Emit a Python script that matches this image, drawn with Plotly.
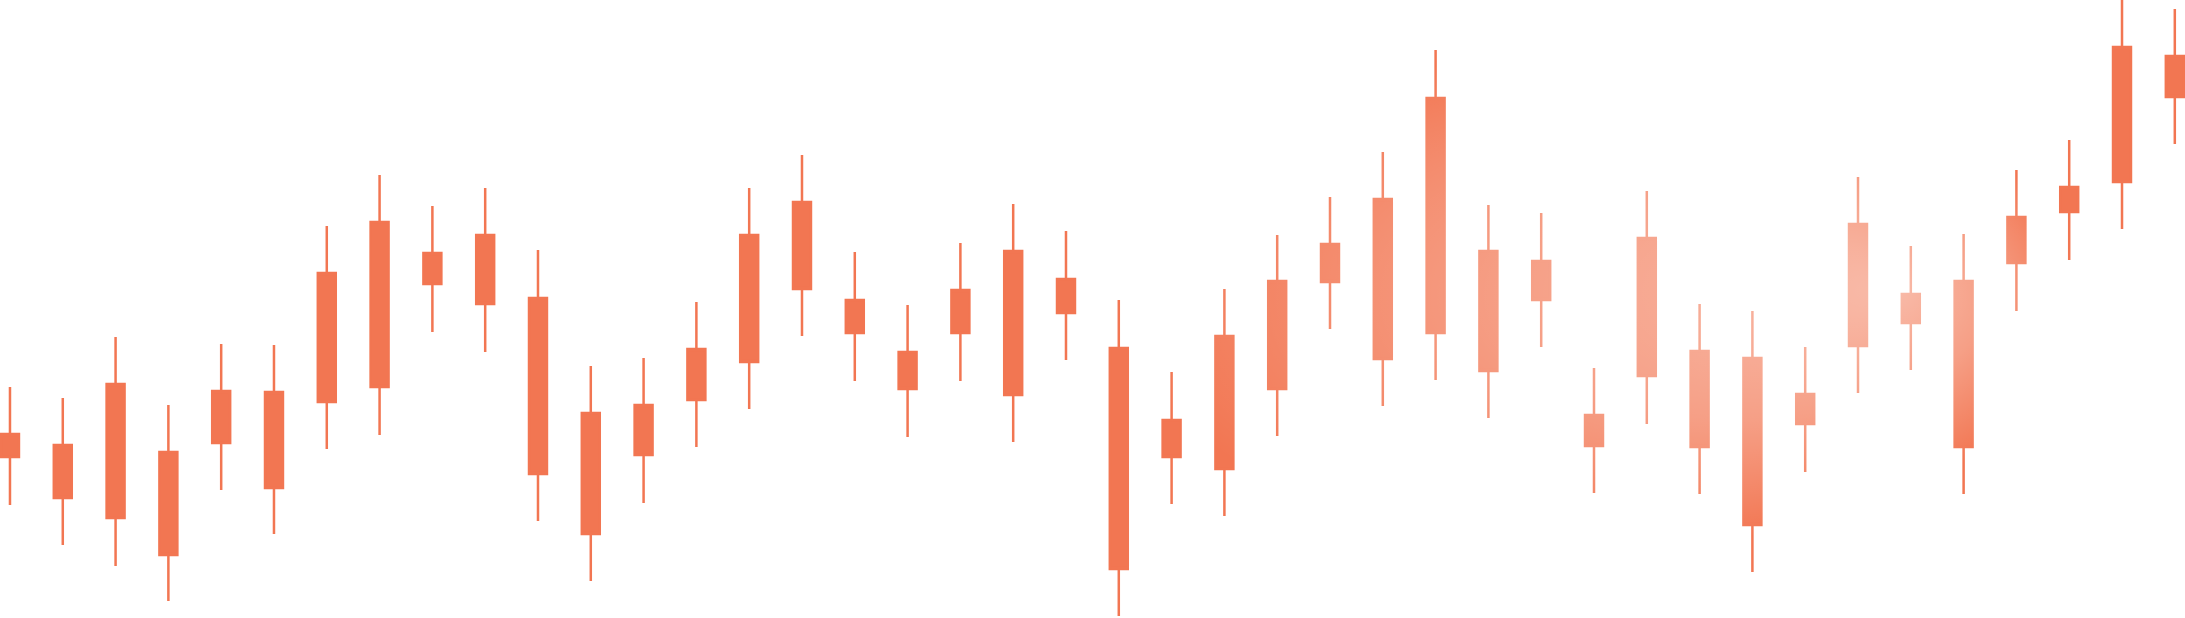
import base64
import plotly.graph_objects as go

# candle index along the x axis
days = list(range(42))

# prices (0 = bottom of chart, 618 = top)
high = [231, 220, 281, 213, 274, 273, 392, 443, 412, 430, 368, 252, 260, 316,
        430, 463, 366, 313, 375, 414, 387, 318, 246, 329, 383, 421, 466, 568,
        413, 405, 250, 427, 314, 307, 271, 441, 372, 384, 448, 478, 618, 609]
low = [113, 73, 52, 17, 128, 84, 169, 183, 286, 266, 97, 37, 115, 171,
       209, 282, 237, 181, 237, 176, 258, 2, 114, 102, 182, 289, 212, 238,
       200, 271, 125, 194, 124, 46, 146, 225, 248, 124, 307, 358, 389, 474]
open_ = [161, 173, 100, 166, 175, 130, 216, 396, 334, 383, 320, 205, 163, 218,
         383, 416, 318, 266, 285, 223, 339, 270, 198, 149, 229, 374, 259, 520,
         367, 357, 203, 242, 267, 260, 224, 272, 324, 171, 401, 406, 436, 562]
close = [184, 120, 234, 63, 227, 226, 345, 231, 365, 314, 144, 84, 213, 269,
         256, 329, 285, 229, 328, 367, 305, 49, 161, 282, 337, 336, 419, 285,
         247, 318, 172, 380, 171, 93, 194, 394, 295, 337, 355, 431, 571, 521]

BASE = '#F27652'

fig = go.Figure()
fig.add_trace(go.Candlestick(
    x=days,
    open=open_,
    high=high,
    low=low,
    close=close,
    increasing=dict(line=dict(color=BASE, width=2.5), fillcolor=BASE),
    decreasing=dict(line=dict(color=BASE, width=2.5), fillcolor=BASE),
    whiskerwidth=0,
    showlegend=False,
    hoverinfo='skip',
))

# soft white glow that lightens the candles on the right-middle part
# (bright spot near the right, long fade to the left)
glow_svg = (
    '<svg xmlns="http://www.w3.org/2000/svg" width="2185" height="618" '
    'viewBox="0 0 2185 618" preserveAspectRatio="none">'
    '<defs><radialGradient id="g" cx="0.5" cy="0.5" r="0.5" fx="0.81" fy="0.48">'
    '<stop offset="0" stop-color="#fff" stop-opacity="0.5"/>'
    '<stop offset="0.5" stop-color="#fff" stop-opacity="0.3"/>'
    '<stop offset="0.8" stop-color="#fff" stop-opacity="0.12"/>'
    '<stop offset="1" stop-color="#fff" stop-opacity="0"/>'
    '</radialGradient></defs>'
    '<rect x="1120" y="50" width="960" height="500" fill="url(#g)"/>'
    '</svg>'
)
glow_src = 'data:image/svg+xml;base64,' + base64.b64encode(glow_svg.encode()).decode()

fig.update_layout(
    width=2185,
    height=618,
    margin=dict(l=0, r=0, t=0, b=0),
    paper_bgcolor='white',
    plot_bgcolor='white',
    boxgap=0.66,
    boxgroupgap=0,
    xaxis=dict(range=[-0.189, 41.193], visible=False, rangeslider=dict(visible=False),
               fixedrange=True),
    yaxis=dict(range=[0, 618], visible=False, fixedrange=True),
    images=[dict(source=glow_src, xref='paper', yref='paper', x=0, y=1,
                 sizex=1, sizey=1, sizing='stretch', layer='above',
                 xanchor='left', yanchor='top')],
)

fig.write_html("out.html", config={'displayModeBar': False},
               post_script="document.body.style.margin='0';"
                           "document.body.style.overflow='hidden';")
